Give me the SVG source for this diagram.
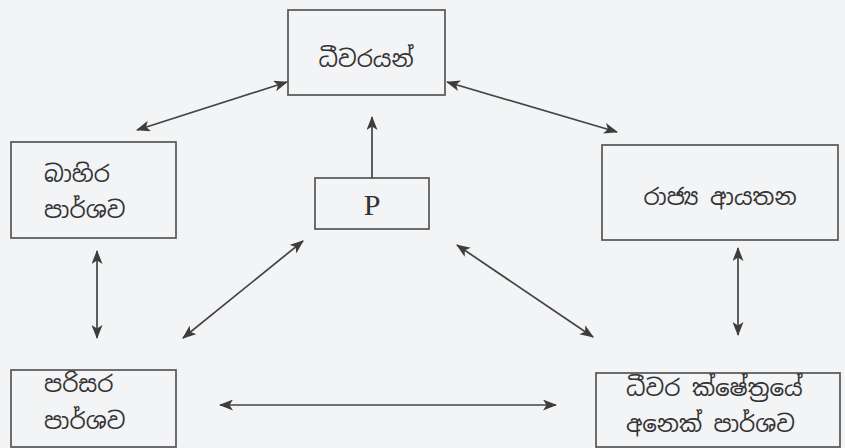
<svg xmlns="http://www.w3.org/2000/svg" width="845" height="448" viewBox="0 0 845 448">
<defs>
<marker id="ah" viewBox="0 0 14 11" refX="13" refY="5.5" markerWidth="14" markerHeight="11" markerUnits="userSpaceOnUse" orient="auto-start-reverse">
<path d="M0,0 L14,5.5 L0,11 L3.5,5.5 z" fill="#3d3d3d"/>
</marker>
<style>
.box{fill:none;stroke:#555;stroke-width:1.7}
.t{font-family:"Noto Sans Sinhala","Noto Sans","DejaVu Sans",sans-serif;font-size:23px;fill:#333}
.p{font-family:"Liberation Serif",serif;font-size:30px;fill:#333}
.c{stroke:#444;stroke-width:1.7;fill:none}
</style>
</defs>
<rect width="845" height="448" fill="#f3f4f6"/>
<g id="n-dhivarayan"><rect class="box" x="288" y="10" width="157" height="85"/><text class="t" x="366" y="67" text-anchor="middle">ධීවරයන්</text></g>
<g id="n-bahira"><rect class="box" x="11" y="142" width="165" height="96"/><text class="t" x="44" y="182">බාහිර</text><text class="t" x="44" y="218">පාර්ශව</text></g>
<g id="n-rajya"><rect class="box" x="602" y="145" width="236" height="95"/><text class="t" x="720" y="205" text-anchor="middle">රාජ්‍ය ආයතන</text></g>
<g id="n-p"><rect class="box" x="315" y="178" width="114" height="51"/><text class="p" x="372" y="215" text-anchor="middle">P</text></g>
<g id="n-parisara"><rect class="box" x="11" y="370" width="165" height="77"/><text class="t" x="44" y="392">පරිසර</text><text class="t" x="44" y="429">පාර්ශව</text></g>
<g id="n-anek"><rect class="box" x="596" y="373" width="244" height="74"/><text class="t" x="626" y="396">ධීවර ක්ෂේත්‍රයේ</text><text class="t" x="626" y="432">අනෙක් පාර්ශව</text></g>
<g id="connectors">
<line class="c" x1="287" y1="82" x2="137" y2="130" marker-start="url(#ah)" marker-end="url(#ah)"/>
<line class="c" x1="447" y1="82" x2="617" y2="132" marker-start="url(#ah)" marker-end="url(#ah)"/>
<line class="c" x1="372" y1="178" x2="372" y2="117" marker-end="url(#ah)"/>
<line class="c" x1="97" y1="251" x2="97" y2="338" marker-start="url(#ah)" marker-end="url(#ah)"/>
<line class="c" x1="738" y1="248" x2="738" y2="335" marker-start="url(#ah)" marker-end="url(#ah)"/>
<line class="c" x1="303" y1="241" x2="183" y2="338" marker-start="url(#ah)" marker-end="url(#ah)"/>
<line class="c" x1="457" y1="245" x2="593" y2="337" marker-start="url(#ah)" marker-end="url(#ah)"/>
<line class="c" x1="220" y1="405" x2="556" y2="405" marker-start="url(#ah)" marker-end="url(#ah)"/>
</g>
</svg>
